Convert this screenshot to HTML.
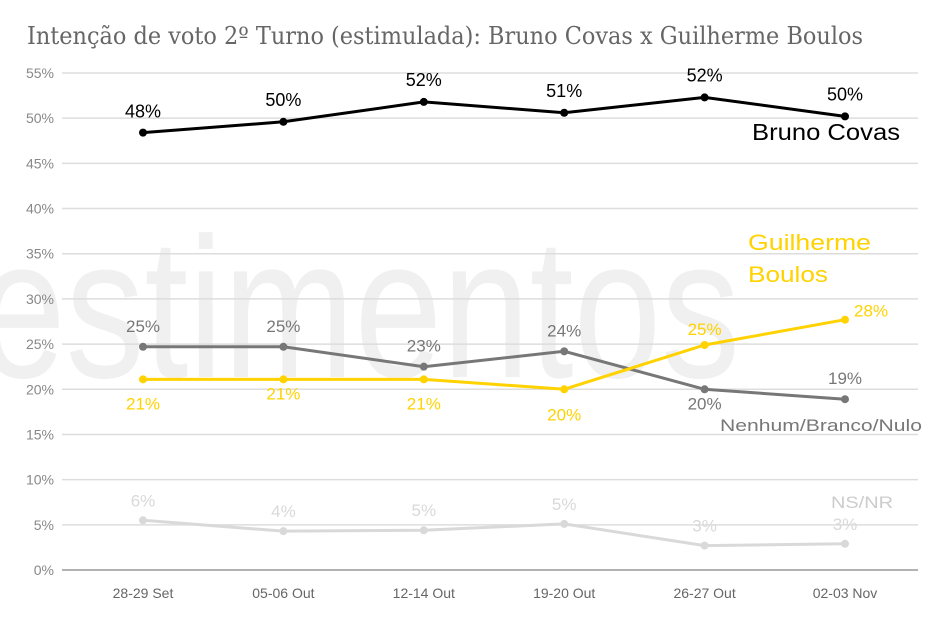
<!DOCTYPE html>
<html><head><meta charset="utf-8"><style>
body{margin:0;background:#fff;}
svg{display:block;font-family:"Liberation Sans",sans-serif;}
</style></head><body>
<svg id="chart" width="934" height="633" viewBox="0 0 934 633" xmlns="http://www.w3.org/2000/svg">
<text x="-22" y="377" font-size="200" fill="#f0f0f0" textLength="762" lengthAdjust="spacingAndGlyphs" style="font-family:'Liberation Sans Narrow','Liberation Sans',sans-serif">estimentos</text>
<text x="27" y="44" font-size="24" fill="#666" style="font-family:'DejaVu Serif','Liberation Serif',serif" textLength="836" lengthAdjust="spacingAndGlyphs">Intenção de voto 2º Turno (estimulada): Bruno Covas x Guilherme Boulos</text>
<g id="grid"></g><g id="series"></g>
</svg>
<script>
const categories=["28-29 Set","05-06 Out","12-14 Out","19-20 Out","26-27 Out","02-03 Nov"];
const yTicks=[0,5,10,15,20,25,30,35,40,45,50,55];
const covas=[48.4,49.6,51.8,50.6,52.3,50.2];
const boulos=[21.1,21.1,21.1,20.0,24.9,27.7];
const nenhum=[24.7,24.7,22.5,24.2,20.0,18.9];
const nsnr=[5.5,4.3,4.4,5.1,2.7,2.9];
const covasLabels=["48%","50%","52%","51%","52%","50%"];
const boulosLabels=["21%","21%","21%","20%","25%","28%"];
const nenhumLabels=["25%","25%","23%","24%","20%","19%"];
const nsnrLabels=["6%","4%","5%","5%","3%","3%"];

const NS="http://www.w3.org/2000/svg";
const y=v=>570-v*(497/55);
const x=i=>143+i*140.4;
function mk(tag,attrs,parent){const e=document.createElementNS(NS,tag);for(const k in attrs)e.setAttribute(k,attrs[k]);parent.appendChild(e);return e;}
const grid=document.getElementById('grid'),ser=document.getElementById('series');
yTicks.forEach(t=>{
  const l=mk('line',{x1:62,x2:918,y1:y(t),y2:y(t),stroke:t===0?'#999':'#ddd','stroke-width':1.5},grid);
  
  
  const tx=mk('text',{x:54,y:y(t)+5,'text-anchor':'end','font-size':14,fill:'#888'},grid);
  tx.textContent=t+'%';
  
  
});
categories.forEach((c,i)=>{
  const tx=mk('text',{x:x(i),y:598,'text-anchor':'middle','font-size':14,fill:'#666'},grid);
  tx.textContent=c;
  
  
});
function series(vals,labels,color,name,offs,fs){
  const p=mk('polyline',{points:vals.map((v,i)=>x(i)+','+y(v)).join(' '),fill:'none',stroke:color,'stroke-width':3},ser);
  
  
  vals.forEach((v,i)=>{
    const c=mk('circle',{cx:x(i),cy:y(v),r:4,fill:color},ser);
    
    
    const t=mk('text',{x:x(i)+offs[i][0],y:y(v)+offs[i][1],'text-anchor':'middle','font-size':fs,fill:color},ser);
    t.textContent=labels[i];
    
    
  });
}
series(nsnr,nsnrLabels,'#d9d9d9','nsnr',[[0,-14],[0,-14],[0,-14],[0,-14],[0,-14],[0,-14]],17);
series(nenhum,nenhumLabels,'#777','nenhum',[[0,-15],[0,-15],[0,-15],[0,-15],[0,20],[0,-15]],17);
series(boulos,boulosLabels,'#ffd200','boulos',[[0,30],[0,20],[0,30],[0,31],[0,-10],[26,-3]],17);
series(covas,covasLabels,'#000','covas',[[0,-15],[0,-16],[0,-16],[0,-16],[0,-16],[0,-16]],18);
function lab(txt,xx,yy,col,fs,name,w){const t=mk('text',{x:xx,y:yy,'font-size':fs,fill:col,textLength:w,lengthAdjust:'spacingAndGlyphs'},ser);t.textContent=txt;
  
  }
lab('Bruno Covas',752,140,'#000',23,'legend-covas',148);
lab('Guilherme',748,250,'#ffd200',22,'legend-boulos-1',123);
lab('Boulos',748,282,'#ffd200',22,'legend-boulos-2',80);
lab('Nenhum/Branco/Nulo',720,431,'#777',17,'legend-nenhum',202);
lab('NS/NR',831,508,'#ccc',17,'legend-nsnr',62);
</script>
</body></html>
